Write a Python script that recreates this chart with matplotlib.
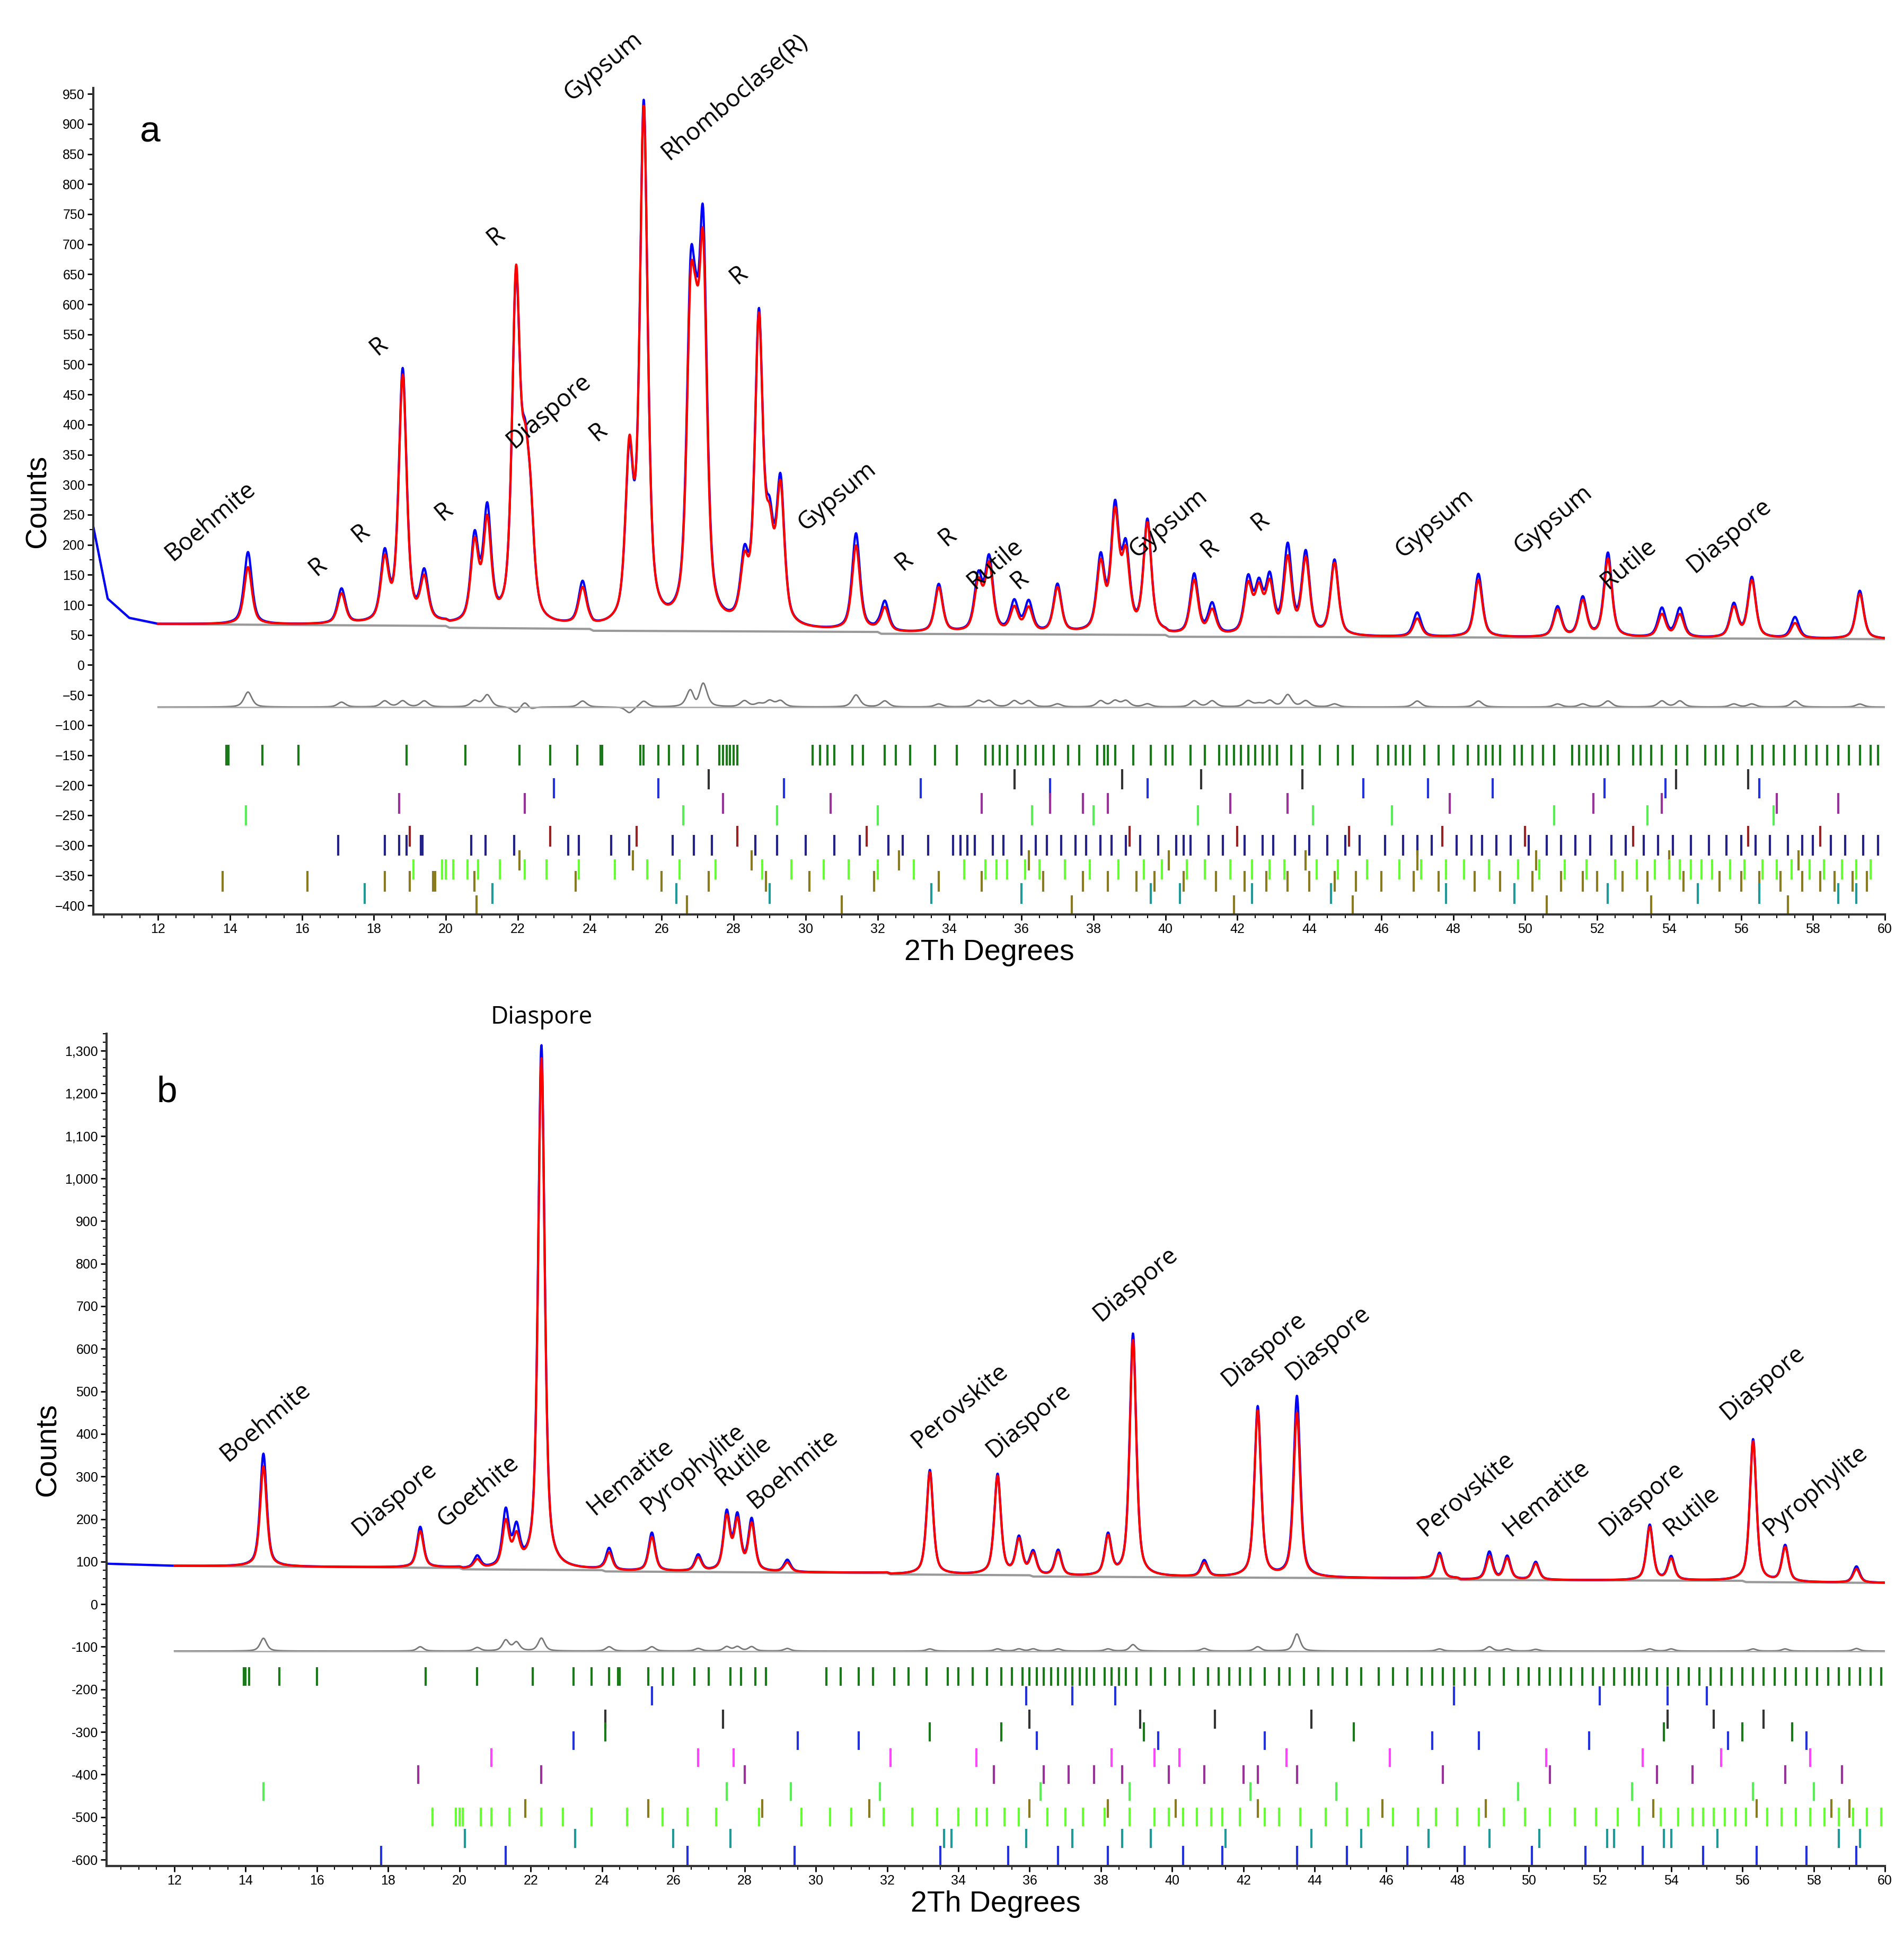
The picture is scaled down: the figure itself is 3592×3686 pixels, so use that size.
import numpy as np
import matplotlib
matplotlib.use("Agg")
import matplotlib.pyplot as plt
from matplotlib.ticker import MultipleLocator, FuncFormatter

plt.rcParams['font.family'] = ['Liberation Sans', 'DejaVu Sans']

# ---------------- panel a data ----------------
a_bg_x = [10.2, 10.6, 11.2, 12.0, 20.0, 20.1, 24.0, 24.1, 32.0, 32.1, 40.0, 40.1, 48.0, 60.0]
a_bg_y = [230, 110, 78, 68, 65, 62, 60, 57, 55, 52, 50, 47, 46, 43]
a_pk_pos = [14.5, 17.1, 18.3, 18.8, 19.4, 20.8, 21.15, 21.95, 22.2, 22.35, 23.8, 25.1, 25.5,
            26.8, 26.95, 27.15, 28.3, 28.7, 29.0, 29.3, 31.4, 32.2, 33.7, 34.8, 35.1, 35.8,
            36.2, 37.0, 38.2, 38.6, 38.9, 39.5, 40.8, 41.3, 42.3, 42.6, 42.9, 43.4, 43.9,
            44.7, 47.0, 48.7, 50.9, 51.6, 52.3, 53.8, 54.3, 55.8, 56.3, 57.5, 59.3]
a_pk_calc = [95, 50, 100, 410, 70, 130, 165, 560, 190, 140, 60, 270, 850,
             440, 250, 560, 90, 500, 130, 220, 140, 40, 75, 80, 110, 40,
             40, 75, 110, 190, 120, 180, 90, 40, 80, 70, 80, 125, 125,
             120, 30, 95, 45, 60, 130, 38, 38, 50, 95, 25, 75]
a_pk_obs = [120, 58, 110, 420, 80, 140, 185, 550, 200, 135, 70, 260, 860,
            470, 240, 600, 100, 505, 140, 230, 160, 50, 80, 90, 120, 50,
            50, 80, 120, 200, 130, 185, 100, 50, 90, 75, 90, 145, 135,
            125, 40, 105, 50, 65, 140, 48, 48, 55, 100, 35, 80]
a_width = 0.13

a_labels = [(12.5, 165, 'Boehmite'), (16.5, 140, 'R'), (17.7, 196, 'R'), (18.2, 507, 'R'),
            (20.0, 232, 'R'), (21.45, 690, 'R'), (22.0, 352, 'Diaspore'), (24.3, 364, 'R'),
            (23.6, 930, 'Gypsum'), (26.3, 832, 'Rhomboclase(R)'), (28.2, 625, 'R'),
            (30.1, 215, 'Gypsum'), (32.8, 149, 'R'), (34.0, 190, 'R'), (34.8, 118, 'Rutile'),
            (36.0, 118, 'R'), (39.3, 170, 'Gypsum'), (41.3, 170, 'R'), (42.7, 215, 'R'),
            (46.7, 170, 'Gypsum'), (50.0, 176, 'Gypsum'), (52.4, 118, 'Rutile'),
            (54.8, 145, 'Diaspore')]

a_tick_rows = [
    (-150, '#1a7a1a', [13.9, 13.95, 14.9, 15.9, 18.9, 20.55, 22.05, 22.9, 23.65, 24.3, 24.35,
                       25.4, 25.5, 25.9, 26.2, 26.6, 27.0, 27.6, 27.7, 27.8, 27.9, 28.0, 28.1,
                       30.2, 30.4, 30.6, 30.8, 31.3, 31.6, 32.2, 32.5, 32.9, 33.6, 34.2,
                       35.0, 35.2, 35.4, 35.6, 35.9, 36.1, 36.4, 36.6, 36.9, 37.3, 37.6, 38.1,
                       38.3, 38.4, 38.6, 39.1, 39.6, 40.0, 40.2, 40.7, 41.1, 41.5, 41.7, 41.9,
                       42.1, 42.3, 42.5, 42.7, 42.9, 43.1, 43.5, 43.8, 44.3, 44.8, 45.2, 45.9,
                       46.2, 46.4, 46.6, 46.8, 47.2, 47.6, 48.0, 48.4, 48.7, 48.9, 49.1, 49.3,
                       49.7, 49.9, 50.2, 50.5, 50.8, 51.3, 51.5, 51.7, 51.9, 52.1, 52.3, 52.6,
                       53.0, 53.2, 53.5, 53.8, 54.2, 54.5, 55.0, 55.3, 55.5, 55.9, 56.3, 56.6,
                       56.9, 57.2, 57.5, 57.8, 58.1, 58.4, 58.7, 59.0, 59.3, 59.6, 59.8]),
    (-190, '#333333', [27.3, 35.8, 38.8, 41.0, 43.8, 54.2, 56.2]),
    (-205, '#2233dd', [23.0, 25.9, 29.4, 33.2, 36.8, 39.5, 45.5, 47.3, 49.1, 52.2, 53.9, 56.5]),
    (-230, '#993399', [18.7, 22.2, 27.7, 30.7, 34.9, 36.8, 37.7, 38.4, 41.8, 43.4, 47.9, 51.9,
                       53.8, 57.0, 58.7]),
    (-250, '#55ee55', [14.45, 26.6, 29.2, 32.0, 36.3, 38.0, 40.9, 44.1, 46.3, 50.8, 53.4, 56.9]),
    (-285, '#992222', [19.0, 22.9, 25.3, 28.1, 31.7, 39.0, 42.0, 45.1, 47.7, 50.0, 53.0, 56.2,
                       58.2]),
    (-300, '#222288', [17.0, 18.3, 18.7, 18.9, 19.3, 19.35, 20.7, 21.1, 21.9, 23.4, 23.7, 24.6,
                       25.1, 26.3, 26.9, 27.4, 28.6, 29.2, 30.0, 30.8, 31.5, 32.3, 32.7,
                       33.4, 34.1, 34.3, 34.5, 34.7, 35.2, 35.5, 36.0, 36.4, 36.7, 37.1, 37.5,
                       37.8, 38.2, 38.5, 38.9, 39.3, 39.8, 40.3, 40.5, 40.7, 41.2, 41.6, 42.2,
                       42.7, 43.0, 43.6, 44.0, 44.5, 45.0, 45.4, 46.1, 46.6, 47.0, 47.4, 48.1,
                       48.5, 48.8, 49.2, 49.6, 50.1, 50.6, 51.0, 51.4, 51.8, 52.4, 52.8, 53.3,
                       53.7, 54.1, 54.6, 55.1, 55.6, 56.0, 56.4, 56.8, 57.3, 57.7, 58.0, 58.5,
                       58.9, 59.4, 59.8]),
    (-325, '#8a7a20', [22.05, 25.2, 28.5, 32.6, 36.2, 40.1, 43.9, 47.0, 50.3, 54.0, 57.6]),
    (-340, '#66ff33', [19.1, 19.9, 20.0, 20.2, 20.6, 20.9, 21.5, 22.2, 22.8, 23.7, 24.7, 25.6,
                       26.5, 27.5, 28.8, 29.6, 30.5, 31.2, 32.0, 33.0, 34.4, 35.0, 35.3, 35.6,
                       36.1, 36.5, 37.2, 37.9, 38.7, 39.4, 39.9, 40.6, 41.1, 41.8, 42.4, 42.9,
                       43.3, 44.2, 44.8, 45.6, 46.5, 47.1, 47.8, 48.3, 49.0, 49.8, 50.4, 51.1,
                       51.7, 52.5, 53.1, 53.6, 54.0, 54.3, 54.6, 54.9, 55.2, 55.7, 56.1, 56.6,
                       57.0, 57.4, 57.9, 58.3, 58.8, 59.2, 59.6]),
    (-360, '#8a7a20', [13.8, 16.15, 18.3, 19.0, 19.65, 19.7, 20.8, 23.6, 26.0, 27.3, 28.9,
                       30.1, 31.9, 33.7, 34.9, 36.6, 37.7, 38.4, 39.2, 39.7, 40.5, 41.4, 42.2,
                       42.8, 43.4, 44.0, 44.7, 45.3, 46.0, 46.9, 47.6, 48.6, 49.3, 50.2, 51.0,
                       51.6, 52.0, 52.7, 53.4, 54.4, 55.4, 56.0, 56.5, 57.1, 57.7, 58.2, 58.6,
                       59.1, 59.5]),
    (-380, '#229999', [17.75, 21.3, 26.4, 29.0, 33.5, 36.0, 39.6, 40.4, 42.4, 44.6, 47.8, 49.7,
                       52.3, 54.8, 56.5, 58.7, 59.2]),
    (-400, '#8a7a20', [20.85, 26.7, 31.0, 37.4, 41.9, 45.2, 50.6, 53.5, 57.3]),
]

# ---------------- panel b data ----------------
b_bg_x = [10.1, 12.0, 20.0, 20.1, 24.0, 24.1, 32.0, 32.1, 36.0, 36.1, 48.0, 48.1, 56.0, 56.1, 60.0]
b_bg_y = [95, 90, 85, 82, 80, 77, 73, 70, 68, 65, 60, 57, 55, 52, 50]
b_pk_pos = [14.5, 18.9, 20.5, 21.3, 21.6, 22.3, 24.2, 25.4, 26.7, 27.5, 27.8, 28.2, 29.2,
            33.2, 35.1, 35.7, 36.1, 36.8, 38.2, 38.9, 40.9, 42.4, 43.5, 47.5, 48.9, 49.4,
            50.2, 53.4, 54.0, 56.3, 57.2, 59.2]
b_pk_calc = [235, 85, 20, 105, 65, 1200, 42, 80, 32, 125, 115, 110, 22,
             240, 230, 80, 50, 55, 90, 555, 32, 390, 385, 55, 55, 50,
             38, 125, 50, 330, 80, 32]
b_pk_obs = [265, 95, 28, 130, 85, 1230, 52, 90, 38, 135, 125, 120, 28,
            245, 235, 85, 55, 60, 95, 570, 38, 400, 425, 60, 65, 55,
            42, 130, 55, 335, 85, 38]
b_width = 0.11

b_labels = [(13.6, 324, 'Boehmite'), (17.3, 148, 'Diaspore'), (19.7, 169, 'Goethite'),
            (23.9, 198, 'Hematite'), (25.4, 198, 'Pyrophylite'), (27.5, 266, 'Rutile'),
            (28.4, 213, 'Boehmite'), (33.0, 354, 'Perovskite'), (35.1, 333, 'Diaspore'),
            (38.1, 652, 'Diaspore'), (41.7, 500, 'Diaspore'), (43.5, 515, 'Diaspore'),
            (47.2, 148, 'Perovskite'), (49.6, 148, 'Hematite'), (52.3, 148, 'Diaspore'),
            (54.1, 148, 'Rutile'), (55.7, 421, 'Diaspore'), (56.9, 148, 'Pyrophylite')]

b_tick_rows = [
    (-170, '#1a7a1a', [13.95, 14.0, 14.1, 14.95, 16.0, 19.05, 20.5, 22.05, 23.2, 23.7, 24.2,
                       24.45, 24.5, 25.3, 25.7, 26.0, 26.6, 27.0, 27.6, 27.9, 28.3, 28.6,
                       30.3, 30.7, 31.2, 31.6, 32.2, 32.6, 33.1, 33.7, 34.0, 34.4, 34.8,
                       35.2, 35.5, 35.8, 36.0, 36.2, 36.4, 36.6, 36.8, 37.0, 37.2, 37.4, 37.6,
                       37.8, 38.1, 38.3, 38.5, 38.7, 39.0, 39.4, 39.8, 40.2, 40.6, 41.0, 41.3,
                       41.6, 41.9, 42.2, 42.6, 43.0, 43.3, 43.7, 44.1, 44.5, 44.9, 45.3, 45.8,
                       46.2, 46.6, 47.0, 47.3, 47.6, 47.9, 48.2, 48.5, 48.9, 49.3, 49.7, 50.0,
                       50.3, 50.6, 50.9, 51.2, 51.5, 51.8, 52.1, 52.4, 52.7, 52.9, 53.1, 53.3,
                       53.6, 53.9, 54.2, 54.5, 54.8, 55.1, 55.4, 55.7, 56.0, 56.3, 56.6, 56.9,
                       57.2, 57.5, 57.8, 58.1, 58.4, 58.7, 59.0, 59.3, 59.6, 59.9]),
    (-215, '#2233dd', [25.4, 35.9, 37.2, 38.4, 47.9, 52.0, 53.9, 55.0]),
    (-270, '#333333', [24.1, 27.4, 36.0, 39.1, 41.2, 43.9, 53.9, 55.2, 56.6]),
    (-300, '#1a7a1a', [24.1, 33.2, 35.2, 39.2, 45.1, 53.8, 56.0, 57.4]),
    (-320, '#2233dd', [23.2, 29.5, 31.2, 36.2, 39.6, 42.6, 47.3, 48.6, 51.7, 55.6, 57.8]),
    (-360, '#ff44ff', [20.9, 26.7, 27.7, 32.1, 34.5, 38.3, 39.5, 40.2, 43.2, 46.1, 50.5,
                       53.2, 55.4, 57.9]),
    (-400, '#993399', [18.85, 22.3, 28.0, 35.0, 36.4, 37.1, 37.8, 38.6, 39.9, 40.9, 42.0,
                       42.4, 43.5, 47.6, 50.6, 53.6, 54.6, 57.2, 58.8]),
    (-440, '#55ee55', [14.5, 27.5, 29.3, 31.8, 36.3, 38.8, 42.2, 44.6, 49.7, 52.9, 56.3, 58.0]),
    (-480, '#8a7a20', [21.85, 25.3, 28.5, 31.5, 36.0, 38.2, 40.1, 42.4, 45.9, 48.8, 53.5,
                       56.4, 58.5, 59.0]),
    (-500, '#66ff33', [19.25, 19.9, 20.0, 20.1, 20.6, 20.9, 21.4, 22.3, 22.9, 23.7, 24.7,
                       25.7, 26.4, 27.2, 28.4, 29.6, 30.4, 31.0, 31.9, 32.7, 33.4, 34.0,
                       34.5, 34.8, 35.3, 35.7, 36.5, 37.0, 37.5, 38.1, 38.8, 39.5, 39.9, 40.3,
                       40.7, 41.1, 41.4, 41.9, 42.6, 43.0, 43.6, 44.3, 44.9, 45.5, 46.2, 46.9,
                       47.4, 48.0, 48.6, 49.3, 49.9, 50.6, 51.3, 51.9, 52.5, 53.1, 53.7, 54.2,
                       54.6, 54.9, 55.2, 55.5, 55.8, 56.1, 56.7, 57.1, 57.5, 57.9, 58.3, 58.7,
                       59.1, 59.5, 59.9]),
    (-550, '#229999', [20.15, 23.25, 26.0, 27.6, 33.6, 33.8, 35.9, 37.2, 38.6, 39.4, 41.5,
                       43.9, 45.3, 47.2, 48.9, 50.3, 52.2, 52.4, 53.8, 54.0, 55.3, 58.7, 59.3]),
    (-590, '#2233dd', [17.8, 21.3, 26.4, 29.4, 33.5, 35.4, 36.8, 38.2, 40.3, 41.4, 43.5,
                       44.9, 46.6, 48.2, 50.1, 51.6, 53.2, 54.9, 56.4, 57.8, 59.2]),
]


def profile(x, pos, amp, w):
    y = np.zeros_like(x)
    for p, h in zip(pos, amp):
        y += h * (0.6 / (1 + ((x - p) / w) ** 2) + 0.4 * np.exp(-np.log(2) * ((x - p) / w) ** 2))
    return y


def draw_panel(ax, bg_x, bg_y, pos, calc, obs, w, labels, rows, diff0, ylim, ystep, yminor,
               letter, lx0, ly, comma):
    x = np.linspace(bg_x[0], 60, 6000)
    bg = np.interp(x, bg_x, bg_y)
    yc = bg + profile(x, pos, calc, w)
    yo = bg + profile(x, pos, obs, w)
    ax.plot(bg_x, bg_y, color='#999999', lw=3)
    ax.plot(x, yo, color='#0000ff', lw=3)
    m = x >= 12
    ax.plot(x[m], yc[m], color='#ff0000', lw=3)
    ax.plot(x[m], yo[m] - yc[m] + diff0, color='#777777', lw=2)
    ax.plot([12, 60], [diff0, diff0], color='#aaaaaa', lw=2)
    h = 17 if ystep == 50 else 22
    for yr, col, ticks in rows:
        ax.vlines(ticks, yr - h, yr + h, color=col, lw=3)
    for lx, lyy, t in labels:
        ax.text(lx, lyy, t, rotation=40, rotation_mode='anchor', ha='left', va='bottom',
                fontsize=33, family=['Open Sans', 'DejaVu Sans'])
    ax.set_xlim(bg_x[0], 60)
    ax.set_ylim(*ylim)
    ax.xaxis.set_minor_locator(MultipleLocator(0.5))
    ax.set_xticks(np.arange(12, 61, 2))
    ax.yaxis.set_major_locator(MultipleLocator(ystep))
    ax.yaxis.set_minor_locator(MultipleLocator(yminor))
    if comma:
        ax.yaxis.set_major_formatter(FuncFormatter(lambda v, p: f'{int(v):,}'))
    for s in ['top', 'right']:
        ax.spines[s].set_visible(False)
    for s in ['left', 'bottom']:
        ax.spines[s].set_linewidth(3)
        ax.spines[s].set_color('#333333')
    ax.tick_params(labelsize=18, width=2, length=8)
    ax.tick_params(which='minor', width=1.5, length=5)
    ax.set_xlabel('2Th Degrees', fontsize=40)
    ax.set_ylabel('Counts', fontsize=40)
    ax.text(lx0, ly, letter, fontsize=50)


fig = plt.figure(figsize=(35.92, 36.86), dpi=100)
ax_a = fig.add_axes([0.049, 0.532, 0.941, 0.423])
ax_b = fig.add_axes([0.056, 0.045, 0.934, 0.426])

draw_panel(ax_a, a_bg_x, a_bg_y, a_pk_pos, a_pk_calc, a_pk_obs, a_width, a_labels,
           a_tick_rows, -70, (-415, 960), 50, 25, 'a', 11.5, 870, False)
draw_panel(ax_b, b_bg_x, b_bg_y, b_pk_pos, b_pk_calc, b_pk_obs, b_width, b_labels,
           b_tick_rows, -110, (-615, 1340), 100, 20, 'b', 11.5, 1180, True)
ax_b.text(22.3, 1350, 'Diaspore', ha='center', va='bottom', fontsize=33,
          family=['Open Sans', 'DejaVu Sans'], clip_on=False)

fig.savefig('out.png', dpi=100)
